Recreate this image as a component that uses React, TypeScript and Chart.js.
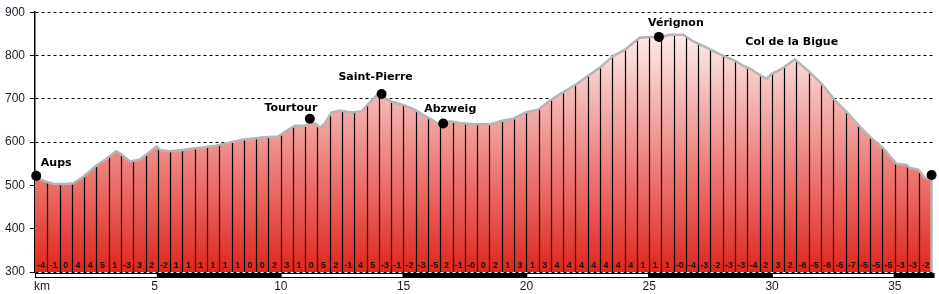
import React, { useEffect, useRef } from "react";
import { Chart, registerables } from "chart.js";

Chart.register(...registerables);

// ---- data ----
const profileKm = [
  0.0, 0.25, 0.48, 0.75, 1.02, 1.3, 1.56, 1.97, 2.44, 2.92, 3.3, 3.46, 3.87, 4.27, 4.55, 4.95, 5.11, 5.49, 6.0,
  6.44, 6.9, 7.39, 8.0, 8.48, 9.0, 9.29, 9.9, 10.24, 10.58, 10.99, 11.22, 11.4, 11.6, 11.8, 12.07, 12.41, 12.7,
  12.96, 13.3, 13.63, 13.9, 14.04, 14.31, 14.58, 14.99, 15.4, 15.8, 16.21, 16.48, 16.7, 16.9, 17.3, 17.84, 18.52,
  18.93, 19.47, 20.0, 20.48, 21.03, 21.5, 22.05, 22.52, 23.0, 23.54, 24.01, 24.35, 24.62, 25.03, 25.37, 25.84,
  26.39, 26.79, 27.34, 27.88, 28.56, 28.8, 29.1, 29.51, 29.78, 29.98, 30.32, 30.52, 30.93, 31.47, 32.02, 32.56,
  33.04, 33.51, 34.05, 34.53, 35.07, 35.48, 35.61, 35.95, 36.22, 36.5,
];
const profileElev = [
  521, 513, 508, 504, 503, 503, 505, 520, 543, 562, 579, 574, 555, 560, 572, 590, 581, 579, 582,
  585, 588, 592, 600, 606, 609, 611, 613, 626, 638, 638, 643, 643, 633, 643, 668, 673, 670,
  669, 671, 692, 707, 711, 699, 692, 686, 677, 663, 650, 639, 645, 648, 644, 641, 641,
  648, 654, 669, 675, 699, 715, 734, 753, 772, 799, 813, 829, 841, 843, 841, 848,
  848, 833, 818, 803, 786, 777, 770, 755, 746, 757, 767, 774, 791, 765, 735, 697,
  670, 640, 609, 586, 550, 548, 540, 537, 518, 514,
];
const segmentKm = 0.5;
const gradeLabels = [
  "-4", "-1", "0", "4", "4", "5", "1", "-3", "3", "2",
  "-2", "1", "1", "1", "1", "1", "1", "0", "0", "2",
  "3", "1", "0", "5", "2", "-1", "4", "5", "-3", "-1",
  "-2", "-3", "-5", "2", "-1", "-0", "0", "2", "1", "3",
  "1", "3", "4", "4", "4", "4", "4", "4", "4", "1",
  "1", "1", "-0", "-4", "-3", "-2", "-3", "-3", "-4", "2",
  "3", "2", "-6", "-5", "-6", "-6", "-7", "-5", "-5", "-5",
  "-3", "-3", "-2",
];
const placeNames = ["Aups", "Tourtour", "Saint-Pierre", "Abzweig", "Vérignon", "Col de la Bigue", ""];
const placeKm = [0.05, 11.19, 14.11, 16.62, 25.4, 30.93, 36.5];
const placeElev = [522, 654, 711, 643, 843, 791, 524];
const placeHasDot = [true, true, true, true, true, false, true];
const xTickKm = [0, 5, 10, 15, 20, 25, 30, 35];
const xTickLabels = ["km", "5", "10", "15", "20", "25", "30", "35"];
const yMin = 300;
const yMax = 900;
const yStep = 100;
const kmMax = 36.6;

// ---- layout (px offsets of place labels relative to their point) ----
const labelOffsets = [
  [20, -13], [-19, -11], [-6, -17], [7, -14], [17, -14], [-3, -17], [0, 0],
];

function elevAt(km: number): number {
  for (let i = 1; i < profileKm.length; i++) {
    if (km <= profileKm[i]) {
      const k0 = profileKm[i - 1], k1 = profileKm[i];
      const t = (km - k0) / (k1 - k0);
      return profileElev[i - 1] + t * (profileElev[i] - profileElev[i - 1]);
    }
  }
  return profileElev[profileElev.length - 1];
}

const decorPlugin = {
  id: "profileDecor",
  afterDatasetDraw(chart: any, args: any) {
    const { ctx, chartArea, scales } = chart;
    const x = scales.x, y = scales.y;
    if (args.index === 0) {
      // vertical segment lines
      ctx.save();
      ctx.strokeStyle = "#000";
      ctx.lineWidth = 1.2;
      const lastKm = profileKm[profileKm.length - 1];
      for (let i = 1; i <= gradeLabels.length; i++) {
        const km = i * segmentKm;
        if (km >= lastKm - 0.01) break;
        const px = Math.round(x.getPixelForValue(km)) + 0.5;
        ctx.beginPath();
        ctx.moveTo(px, y.getPixelForValue(elevAt(km)));
        ctx.lineTo(px, chartArea.bottom);
        ctx.stroke();
      }
      ctx.restore();
    }
    if (args.index === 1) {
      // closing gray edge at the end of the profile
      const lastKm = profileKm[profileKm.length - 1];
      const px = x.getPixelForValue(lastKm);
      ctx.save();
      ctx.strokeStyle = "#b5b5b5";
      ctx.lineWidth = 2.5;
      ctx.beginPath();
      ctx.moveTo(px, y.getPixelForValue(profileElev[profileElev.length - 1]));
      ctx.lineTo(px, chartArea.bottom);
      ctx.stroke();
      ctx.restore();
    }
  },
  afterDraw(chart: any) {
    const { ctx, chartArea, scales } = chart;
    const x = scales.x, y = scales.y;
    ctx.save();
    // grade labels
    ctx.fillStyle = "#111";
    ctx.font = "bold 9px 'Liberation Sans', Arial, sans-serif";
    ctx.textAlign = "center";
    ctx.textBaseline = "middle";
    gradeLabels.forEach((g, i) => {
      const km = i * segmentKm + segmentKm / 2;
      ctx.fillText(g, x.getPixelForValue(km), chartArea.bottom - 6.3);
    });
    // bottom distance band
    const endKm = profileKm[profileKm.length - 1];
    const x0 = x.getPixelForValue(0);
    const xe = x.getPixelForValue(endKm) + 3;
    const bandTop = chartArea.bottom + 1;
    ctx.fillStyle = "#000";
    ctx.fillRect(x0, bandTop, xe - x0, 5);
    ctx.fillStyle = "#fff";
    for (let k = 0; k < xTickKm.length; k += 2) {
      const a = x.getPixelForValue(xTickKm[k]);
      const b = x.getPixelForValue(Math.min(xTickKm[k] + 5, endKm));
      ctx.fillRect(a + 1, bandTop + 1, b - a - 2, 3);
    }
    // x labels
    ctx.fillStyle = "#1a1a2e";
    ctx.font = "12px 'Liberation Sans', Arial, sans-serif";
    ctx.textAlign = "left";
    ctx.textBaseline = "middle";
    xTickKm.forEach((km, i) => {
      const px = x.getPixelForValue(km);
      ctx.fillText(xTickLabels[i], i === 0 ? px - 1 : px - 6.5, 287);
    });
    // place labels
    ctx.fillStyle = "#000";
    ctx.font = "bold 11px 'DejaVu Sans', sans-serif";
    ctx.textAlign = "center";
    ctx.textBaseline = "middle";
    placeNames.forEach((name, i) => {
      if (!name) return;
      const px = x.getPixelForValue(placeKm[i]) + labelOffsets[i][0];
      const py = y.getPixelForValue(placeElev[i]) + labelOffsets[i][1];
      ctx.fillText(name, px, py);
    });
    ctx.restore();
  },
};

export default function App() {
  const canvasRef = useRef<HTMLCanvasElement | null>(null);

  useEffect(() => {
    document.body.style.margin = "0";
    const canvas = canvasRef.current;
    if (!canvas) return;
    const profileData = profileKm.map((k, i) => ({ x: k, y: profileElev[i] }));
    const dotIdx = placeNames.map((_, i) => i).filter((i) => placeHasDot[i]);
    const markerData = dotIdx.map((i) => ({ x: placeKm[i], y: placeElev[i] }));

    const chart = new Chart(canvas, {
      type: "line",
      data: {
        datasets: [
          {
            data: profileData,
            order: 3,
            fill: "start",
            borderWidth: 0,
            pointRadius: 0,
            tension: 0,
            backgroundColor: (c: any) => {
              const ch = c.chart;
              const ca = ch.chartArea;
              if (!ca) return "rgba(0,0,0,0)";
              const g = ch.ctx.createLinearGradient(0, ca.top, 0, ca.bottom);
              g.addColorStop(0, "#ffffff");
              g.addColorStop(1, "rgb(224,38,28)");
              return g;
            },
          },
          {
            data: profileData,
            order: 2,
            fill: false,
            borderColor: "#b5b5b5",
            borderWidth: 2.5,
            pointRadius: 0,
            tension: 0,
          },
          {
            data: markerData,
            order: 1,
            showLine: false,
            pointRadius: 5,
            pointBackgroundColor: "#000",
            pointBorderColor: "#000",
            pointBorderWidth: 0,
            clip: false as any,
          },
        ],
      },
      options: {
        animation: false,
        responsive: false,
        devicePixelRatio: 1,
        events: [],
        layout: { padding: { left: 0, top: 9, right: 5, bottom: 22 } },
        plugins: { legend: { display: false }, tooltip: { enabled: false } },
        scales: {
          x: { type: "linear", min: 0, max: kmMax, display: false },
          y: {
            type: "linear",
            min: yMin,
            max: yMax,
            z: 1,
            afterFit: (scale: any) => {
              scale.width = 35;
            },
            ticks: {
              stepSize: yStep,
              padding: 5,
              color: "#1a1a2e",
              font: { family: "'Liberation Sans', Arial, sans-serif", size: 12 },
            },
            grid: {
              color: "#000",
              lineWidth: 1,
              tickBorderDash: [],
              tickLength: 5,
              tickColor: "#000",
              drawTicks: true,
            },
            border: { display: true, color: "#000", width: 1.5, dash: [3, 3] },
          },
        },
      } as any,
      plugins: [decorPlugin],
    });
    return () => chart.destroy();
  }, []);

  return (
    <div style={{ width: 939, height: 294, position: "relative" }}>
      <canvas ref={canvasRef} width={939} height={294} style={{ display: "block" }} />
    </div>
  );
}
